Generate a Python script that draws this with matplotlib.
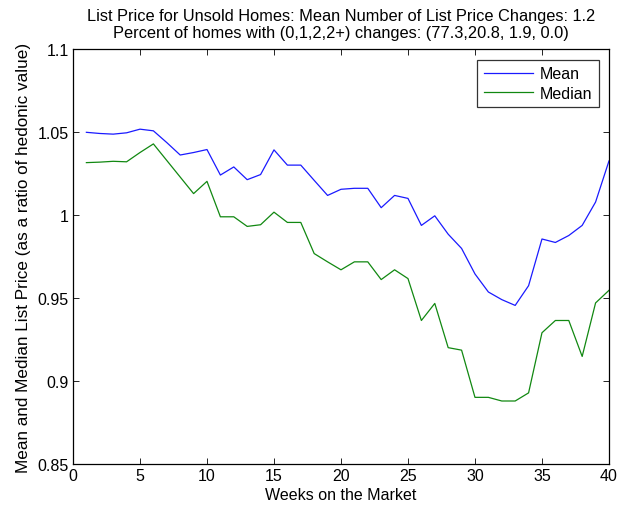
import matplotlib
matplotlib.use("Agg")
import matplotlib.pyplot as plt

plt.rcParams['font.family'] = ['Liberation Sans', 'DejaVu Sans']

weeks = list(range(1, 41))
mean_price = [1.0500, 1.0493, 1.0489, 1.0497, 1.0519, 1.0509, 1.0438, 1.0363, 1.0378, 1.0396,
              1.0242, 1.0291, 1.0214, 1.0245, 1.0394, 1.0302, 1.0302, 1.0210, 1.0119, 1.0156,
              1.0162, 1.0162, 1.0045, 1.0119, 1.0101, 0.9938, 0.9996, 0.9885, 0.9799, 0.9645,
              0.9536, 0.9490, 0.9455, 0.9574, 0.9856, 0.9835, 0.9877, 0.9938, 1.0079, 1.0327]
median_price = [1.0317, 1.0320, 1.0325, 1.0322, 1.0378, 1.0430, 1.0330, 1.0230, 1.0130, 1.0204,
                0.9990, 0.9990, 0.9932, 0.9942, 1.0018, 0.9956, 0.9956, 0.9768, 0.9718, 0.9670,
                0.9718, 0.9718, 0.9611, 0.9670, 0.9617, 0.9364, 0.9467, 0.9200, 0.9185, 0.8900,
                0.8900, 0.8878, 0.8878, 0.8927, 0.9290, 0.9364, 0.9364, 0.9147, 0.9470, 0.9546]

title_lines = ["List Price for Unsold Homes: Mean Number of List Price Changes: 1.2",
               "Percent of homes with (0,1,2,2+) changes: (77.3,20.8, 1.9, 0.0)"]
x_ticks = [0, 5, 10, 15, 20, 25, 30, 35, 40]
y_ticks = [0.85, 0.9, 0.95, 1.0, 1.05, 1.1]
y_tick_labels = ["0.85", "0.9", "0.95", "1", "1.05", "1.1"]

fig = plt.figure(figsize=(6.26, 5.10), dpi=100)
ax = fig.add_axes([0.1166, 0.0890, 0.8562, 0.8120])

ax.plot(weeks, mean_price, color='#1a1aff', lw=0.9, label='Mean')
ax.plot(weeks, median_price, color='#118811', lw=0.9, label='Median')

ax.set_xlim(0, 40)
ax.set_ylim(0.85, 1.1)
ax.set_xticks(x_ticks)
ax.set_yticks(y_ticks)
ax.set_yticklabels(y_tick_labels)
ax.tick_params(direction='in', top=True, right=True, labelsize=11.5, length=4, width=0.6, pad=3)
for s in ax.spines.values():
    s.set_linewidth(0.9)

ax.set_xlabel("Weeks on the Market", fontsize=11.5, labelpad=3)
ax.set_ylabel("Mean and Median List Price (as a ratio of hedonic value)", fontsize=12.3, labelpad=5)
ax.set_title("\n".join(title_lines), fontsize=11.8, pad=9, linespacing=1.15)

leg = ax.legend(loc='upper right', fontsize=11.5, frameon=True, fancybox=False,
                edgecolor='black', handlelength=3.1, borderaxespad=0.65,
                borderpad=0.4, labelspacing=0.3, handletextpad=0.4)
leg.get_frame().set_linewidth(0.9)

fig.savefig("out.png", dpi=100)
